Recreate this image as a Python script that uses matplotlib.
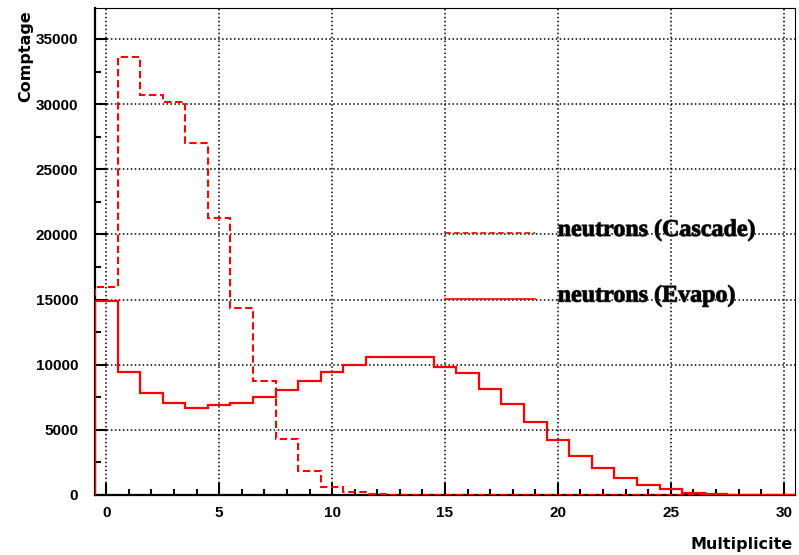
import numpy as np
import matplotlib
matplotlib.use("Agg")
import matplotlib.pyplot as plt
from matplotlib.ticker import MultipleLocator
import matplotlib.patheffects as pe

# Data: multiplicity bins 0..30 (integer-centred bins)
multiplicity = np.arange(0, 31)
cascade = [15990, 33640, 30700, 30140, 27040, 21240, 14330, 8730, 4300, 1860,
           640, 210, 60, 20, 0, 0, 0, 0, 0, 0,
           0, 0, 0, 0, 0, 0, 0, 0, 0, 0, 0]
evapo = [14910, 9460, 7850, 7040, 6700, 6880, 7080, 7540, 8080, 8770,
         9420, 10000, 10610, 10620, 10620, 9850, 9390, 8110, 7010, 5580,
         4240, 3020, 2100, 1330, 780, 470, 190, 90, 30, 10, 0]
labels = ["neutrons (Cascade)", "neutrons (Evapo)"]
xlabel = "Multiplicite"
ylabel = "Comptage"

W, H = 799, 555
fig = plt.figure(figsize=(W / 100, H / 100), dpi=100)
ax = fig.add_axes([95 / W, 1 - 495 / H, 700 / W, 487 / H])

edges = np.append(multiplicity - 0.5, multiplicity[-1] + 0.5)
ax.stairs(cascade, edges, baseline=0, color="red", lw=1.5,
          linestyle=(0, (3.5, 1.8)), zorder=3)
ax.stairs(evapo, edges, baseline=0, color="red", lw=1.6, zorder=3)

ax.set_xlim(-0.5, 30.5)
ax.set_ylim(0, 37375)

ax.xaxis.set_major_locator(MultipleLocator(5))
ax.xaxis.set_minor_locator(MultipleLocator(1))
ax.yaxis.set_major_locator(MultipleLocator(5000))
ax.yaxis.set_minor_locator(MultipleLocator(2500))

ax.grid(True, which="major", color="black", linestyle=(0, (1, 1.6)), lw=1.1, zorder=1)

ax.tick_params(which="both", direction="in", top=False, right=False, width=1.5, color="black")
ax.tick_params(which="major", length=8.5)
ax.tick_params(which="minor", length=4.3)
ax.tick_params(axis="y", which="major", pad=12)
ax.tick_params(axis="x", which="major", pad=8)

for lab in ax.get_xticklabels() + ax.get_yticklabels():
    lab.set_fontfamily("Liberation Sans")
    lab.set_fontweight("bold")
    lab.set_fontsize(11)

for side in ["left", "bottom"]:
    ax.spines[side].set_linewidth(1.6)
for side in ["top", "right"]:
    ax.spines[side].set_linewidth(0.8)

# Axis titles
fig.text(793 / W, 3 / H, xlabel, ha="right", va="bottom",
         fontfamily="DejaVu Sans", fontweight="bold", fontsize=11.5)
fig.text(25.5 / W, 1 - 10 / H, ylabel, ha="center", va="top", rotation=90,
         fontfamily="DejaVu Sans", fontweight="bold", fontsize=11.5)

# Legend
leg_y = [(495 - 233.3) / 487, (495 - 299) / 487]
ax.plot([0.5, 0.629], [leg_y[0]] * 2, transform=ax.transAxes, color="red", lw=1.2,
        linestyle=(0, (3.5, 1.8)), zorder=4)
ax.plot([0.5, 0.629], [leg_y[1]] * 2, transform=ax.transAxes, color="red", lw=1.2, zorder=4)
legstroke = [pe.withStroke(linewidth=0.8, foreground="#444444")]
for lab, yy in zip(labels, leg_y):
    ax.text(0.661, yy + 0.006, lab, transform=ax.transAxes, ha="left", va="center",
            fontfamily="Liberation Serif", fontweight="bold", fontsize=17.3,
            path_effects=legstroke, zorder=5)

fig.savefig("out.png", dpi=100)
